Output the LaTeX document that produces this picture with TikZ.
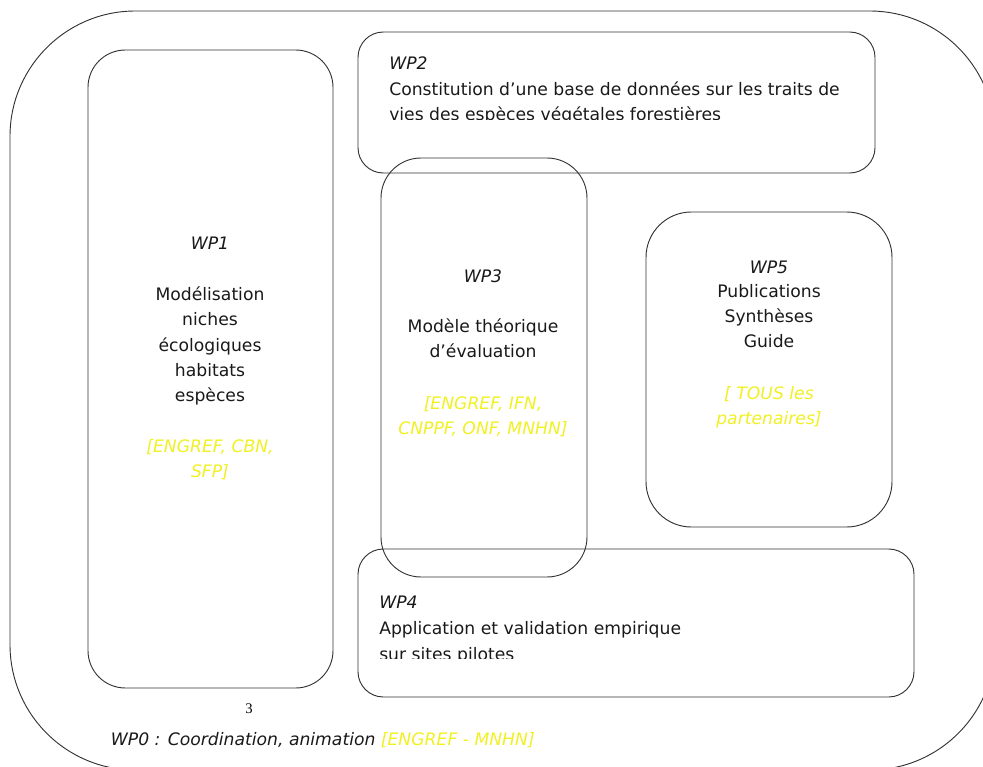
\documentclass[tikz,border=0pt]{standalone}
\usepackage{fontspec}
\setmainfont{DejaVu Sans}
\newfontfamily\numfont{Liberation Serif}
\definecolor{partners}{RGB}{240,240,35}
\tikzset{
  wpbox/.style={draw=black!80, line width=0.7pt},
  wptext/.style={inner sep=0pt, anchor=base, text=black!90, font=\fontsize{12.9}{15}\selectfont},
  wpleft/.style={wptext, anchor=base west},
  wptitle/.style={font=\fontsize{12.9}{15}\selectfont\itshape},
  wpparts/.style={text=partners, font=\fontsize{12.9}{15}\selectfont\itshape}
}

\begin{document}
\begin{tikzpicture}[x=7.5pt,y=7.5pt]
        \useasboundingbox (0,0) rectangle (98.3,-76.7);
        \clip (0,0) rectangle (98.3,-76.7);
        % WP0 frame
        \draw [wpbox, rounded corners=94pt] (1.0,-1.1) rectangle (99.5,-77.0);
        % WP1
        \draw [wpbox, rounded corners=28pt] (8.8,-5.0) rectangle (33.3,-68.8);
        \node [wptext, wptitle] (wp1) at (21.0,-24.9) {WP1};
        \node [wptext] (wp1a) at (21.0,-30.0) {Modélisation};
        \node [wptext] (wp1b) at (21.0,-32.55) {niches};
        \node [wptext] (wp1c) at (21.0,-35.1) {écologiques};
        \node [wptext] (wp1d) at (21.0,-37.6) {habitats};
        \node [wptext] (wp1e) at (21.0,-40.1) {espèces};
        \node [wptext, wpparts] (wp1f) at (21.0,-45.2) {[ENGREF, CBN,};
        \node [wptext, wpparts] (wp1g) at (21.0,-47.7) {SFP]};
        % WP2
        \draw [wpbox, rounded corners=19pt] (35.8,-3.2) rectangle (87.5,-17.3);
        \node [wpleft, wptitle] (wp2) at (38.9,-7.0) {WP2};
        \node [wpleft] (wp2a) at (38.9,-9.55) {Constitution d’une base de données sur les traits de};
        \begin{scope}
          \clip (35.8,-3.2) rectangle (87.5,-11.93);
          \node [wpleft] (wp2b) at (38.9,-12.1) {vies des espèces végétales forestières};
        \end{scope}
        % WP3
        \draw [wpbox, rounded corners=30pt] (38.1,-15.8) rectangle (58.7,-57.7);
        \node [wptext, wptitle] (wp3) at (48.3,-28.2) {WP3};
        \node [wptext] (wp3a) at (48.3,-33.2) {Modèle théorique};
        \node [wptext] (wp3b) at (48.3,-35.7) {d’évaluation};
        \node [wptext, wpparts] (wp3c) at (48.3,-40.9) {[ENGREF, IFN,};
        \node [wptext, wpparts] (wp3d) at (48.3,-43.4) {CNPPF, ONF, MNHN]};
        % WP5
        \draw [wpbox, rounded corners=34pt] (64.6,-21.2) rectangle (89.2,-52.7);
        \node [wptext, wptitle] (wp5) at (76.9,-27.3) {WP5};
        \node [wptext] (wp5a) at (76.9,-29.7) {Publications};
        \node [wptext] (wp5b) at (76.9,-32.2) {Synthèses};
        \node [wptext] (wp5c) at (76.9,-34.7) {Guide};
        \node [wptext, wpparts] (wp5d) at (76.9,-39.9) {[ TOUS les};
        \node [wptext, wpparts] (wp5e) at (76.9,-42.4) {partenaires]};
        % WP4
        \draw [wpbox, rounded corners=19pt] (35.8,-54.9) rectangle (91.4,-69.7);
        \node [wpleft, wptitle] (wp4) at (37.9,-60.8) {WP4};
        \node [wpleft] (wp4a) at (37.9,-63.4) {Application et validation empirique};
        \begin{scope}
          \clip (35.8,-54.9) rectangle (91.4,-65.83);
          \node [wpleft] (wp4b) at (37.9,-66.0) {sur sites pilotes};
        \end{scope}
        % page number and WP0 line
        \node [inner sep=0pt, anchor=base, text=black, font=\numfont\fontsize{11}{13}\selectfont] (pagenum) at (24.9,-71.3) {3};
        \node [wpleft, wptitle] (wp0) at (11.07,-74.5) {WP0 : Coordination, animation \textcolor{partners}{[ENGREF - MNHN]}};
        \end{tikzpicture}
\end{document}
